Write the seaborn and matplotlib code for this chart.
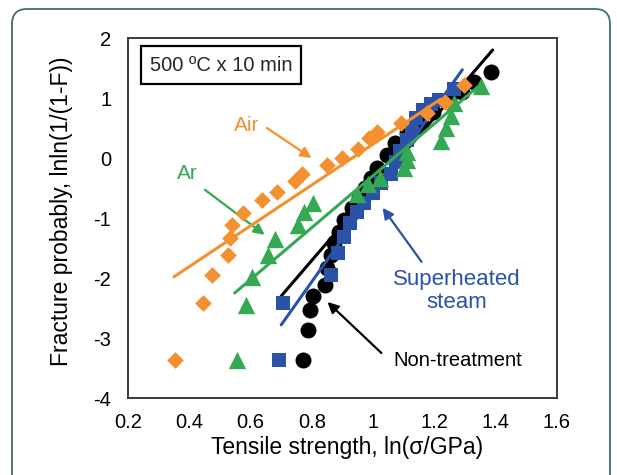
import numpy as np
import pandas as pd
import matplotlib
matplotlib.use("Agg")
import matplotlib.pyplot as plt
from matplotlib.patches import FancyBboxPatch
import seaborn as sns

# ── data (Weibull plot) ───────────────────────────────────
air_x = [0.353, 0.444, 0.474, 0.526, 0.532, 0.539, 0.575, 0.636, 0.685, 0.744,
         0.767, 0.848, 0.900, 0.949, 0.988, 1.014, 1.092, 1.177, 1.233, 1.298]
air_y = [-3.37, -2.42, -1.95, -1.62, -1.33, -1.12, -0.92, -0.70, -0.57, -0.38,
         -0.27, -0.12, 0.00, 0.15, 0.33, 0.43, 0.58, 0.75, 0.93, 1.22]

ar_x = [0.555, 0.584, 0.604, 0.656, 0.679, 0.754, 0.773, 0.803, 0.946, 0.982,
        1.021, 1.102, 1.109, 1.112, 1.223, 1.239, 1.255, 1.265, 1.353]
ar_y = [-3.37, -2.45, -1.98, -1.62, -1.35, -1.12, -0.90, -0.75, -0.60, -0.43,
        -0.33, -0.17, -0.03, 0.10, 0.28, 0.50, 0.70, 0.92, 1.20]

steam_x = [0.692, 0.705, 0.861, 0.884, 0.904, 0.923, 0.946, 0.969, 0.998, 1.027,
           1.057, 1.073, 1.089, 1.109, 1.128, 1.141, 1.164, 1.190, 1.216, 1.265]
steam_y = [-3.37, -2.42, -1.95, -1.58, -1.32, -1.08, -0.90, -0.75, -0.58, -0.42,
           -0.27, -0.07, 0.12, 0.30, 0.47, 0.67, 0.80, 0.90, 0.97, 1.15]

none_x = [0.770, 0.786, 0.793, 0.803, 0.842, 0.850, 0.862, 0.873, 0.888, 0.905,
          0.930, 0.955, 0.972, 0.992, 1.012, 1.045, 1.072, 1.110, 1.155, 1.195,
          1.249, 1.291, 1.330, 1.386]
none_y = [-3.37, -2.87, -2.53, -2.30, -2.12, -1.83, -1.62, -1.42, -1.23, -1.03,
          -0.83, -0.67, -0.50, -0.33, -0.17, 0.05, 0.25, 0.42, 0.58, 0.77,
          0.97, 1.10, 1.27, 1.43]

# fitted lines (end points)
air_fit_x, air_fit_y = [0.35, 1.22], [-1.98, 0.98]
ar_fit_x, ar_fit_y = [0.548, 1.345], [-2.25, 1.20]
steam_fit_x, steam_fit_y = [0.70, 1.291], [-2.78, 1.47]
none_fit_x, none_fit_y = [0.70, 1.39], [-2.30, 1.80]

x_ticks = [0.2, 0.4, 0.6, 0.8, 1.0, 1.2, 1.4, 1.6]
x_tick_labels = ['0.2', '0.4', '0.6', '0.8', '1', '1.2', '1.4', '1.6']
y_ticks = [-4, -3, -2, -1, 0, 1, 2]
y_tick_labels = ['-4', '-3', '-2', '-1', '0', '1', '2']

ORANGE = '#F39131'
GREEN = '#34A853'
BLUE = '#2A52A8'
BLACK = '#000000'

# ── style ─────────────────────────────────────────────────
sns.set_theme(style="white")
plt.rcParams['font.family'] = ['Liberation Sans', 'DejaVu Sans']
plt.rcParams['axes.unicode_minus'] = False

fig = plt.figure(figsize=(6.17, 4.75), dpi=100)
fig.patch.set_facecolor('white')
ax = fig.add_axes([0.2075, 0.1621, 0.6952, 0.7579])

# black first, orange on top
series = [
    (none_x, none_y, none_fit_x, none_fit_y, BLACK, 'o', 11.5, 2),
    (steam_x, steam_y, steam_fit_x, steam_fit_y, BLUE, 's', 10.5, 3),
    (ar_x, ar_y, ar_fit_x, ar_fit_y, GREEN, '^', 12.5, 4),
    (air_x, air_y, air_fit_x, air_fit_y, ORANGE, 'D', 8.5, 5),
]
for xs, ys, fx, fy, col, mk, ms, z in series:
    df = pd.DataFrame({'x': xs, 'y': ys})
    sns.scatterplot(data=df, x='x', y='y', marker=mk, s=ms ** 2, color=col,
                    linewidth=0, ax=ax, zorder=z, legend=False)
    fit = pd.DataFrame({'x': fx, 'y': fy})
    sns.lineplot(data=fit, x='x', y='y', color=col, linewidth=2.2, sort=False,
                 estimator=None, ax=ax, zorder=z)

ax.set_xlim(0.2, 1.6)
ax.set_ylim(-4, 2)
ax.set_xticks(x_ticks)
ax.set_xticklabels(x_tick_labels)
ax.set_yticks(y_ticks)
ax.set_yticklabels(y_tick_labels)
ax.tick_params(direction='in', length=6, width=1.3, colors='#333333',
               labelcolor='black', labelsize=14.5)
ax.tick_params(axis='x', pad=11)
ax.tick_params(axis='y', pad=12)
for sp in ax.spines.values():
    sp.set_color('#3A3A3A')
    sp.set_linewidth(1.4)
ax.grid(False)

ax.set_xlabel('Tensile strength, ln(σ/GPa)', fontsize=16.5, color='black')
ax.set_ylabel('Fracture probably, lnln(1/(1-F))', fontsize=16.5, color='black')
ax.xaxis.set_label_coords(0.51, -0.105)
ax.yaxis.set_label_coords(-0.128, 0.52)

# condition box
ax.text(0.503, 1.55, '500 ºC x 10 min', fontsize=14.5, ha='center', va='center',
        bbox=dict(boxstyle='square,pad=0.45', facecolor='white',
                  edgecolor='black', linewidth=1.6), zorder=6)

# labels and arrows
arrow_kw = dict(arrowstyle='-|>', mutation_scale=16, linewidth=1.6,
                shrinkA=0, shrinkB=0)
ax.text(0.588, 0.55, 'Air', color=ORANGE, fontsize=15, ha='center', va='center')
ax.annotate('', xy=(0.799, 0.0), xytext=(0.653, 0.50),
            arrowprops=dict(color=ORANGE, **arrow_kw))
ax.text(0.395, -0.25, 'Ar', color=GREEN, fontsize=15, ha='center', va='center')
ax.annotate('', xy=(0.646, -1.28), xytext=(0.451, -0.53),
            arrowprops=dict(color=GREEN, **arrow_kw))
ax.text(1.272, -2.22, 'Superheated\nsteam', color=BLUE, fontsize=16,
        ha='center', va='center', linespacing=1.15)
ax.annotate('', xy=(1.031, -0.83), xytext=(1.158, -1.73),
            arrowprops=dict(color=BLUE, **arrow_kw))
ax.text(1.275, -3.37, 'Non-treatment', color=BLACK, fontsize=14.5,
        ha='center', va='center')
ax.annotate('', xy=(0.851, -2.40), xytext=(1.027, -3.25),
            arrowprops=dict(color=BLACK, **arrow_kw))

# rounded frame around the figure
frame = FancyBboxPatch((0.12, -0.3), 5.98, 4.96,
                       boxstyle='round,pad=0,rounding_size=0.15',
                       transform=fig.dpi_scale_trans, facecolor='none',
                       edgecolor='#3C7070', linewidth=1.3)
fig.add_artist(frame)

fig.savefig('out.png', dpi=100, facecolor='white')
